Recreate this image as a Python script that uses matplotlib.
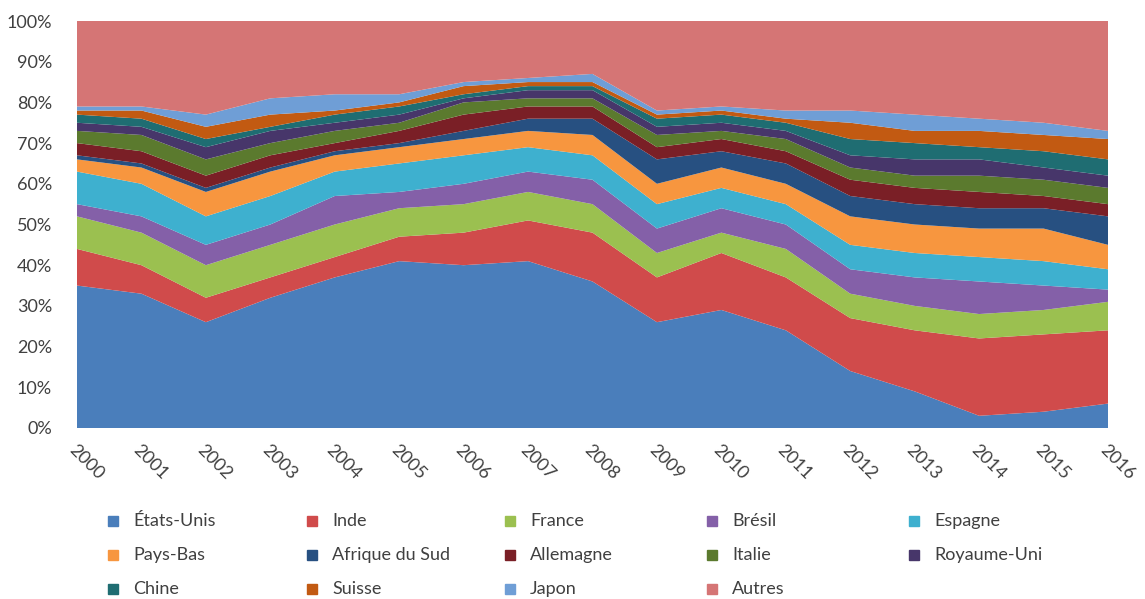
import matplotlib
matplotlib.use("Agg")
import matplotlib.pyplot as plt
from matplotlib.lines import Line2D
import numpy as np

years = list(range(2000, 2017))

# Share of each country (%), per year
etats_unis = [35, 33, 26, 32, 37, 41, 40, 41, 36, 26, 29, 24, 14, 9, 3, 4, 6]
inde = [9, 7, 6, 5, 5, 6, 8, 10, 12, 11, 14, 13, 13, 15, 19, 19, 18]
france = [8, 8, 8, 8, 8, 7, 7, 7, 7, 6, 5, 7, 6, 6, 6, 6, 7]
bresil = [3, 4, 5, 5, 7, 4, 5, 5, 6, 6, 6, 6, 6, 7, 8, 6, 3]
espagne = [8, 8, 7, 7, 6, 7, 7, 6, 6, 6, 5, 5, 6, 6, 6, 6, 5]
pays_bas = [3, 4, 6, 6, 4, 4, 4, 4, 5, 5, 5, 5, 7, 7, 7, 8, 6]
afrique_du_sud = [1, 1, 1, 1, 1, 1, 2, 3, 4, 6, 4, 5, 5, 5, 5, 5, 7]
allemagne = [3, 3, 3, 3, 2, 3, 4, 3, 3, 3, 3, 3, 4, 4, 4, 3, 3]
italie = [3, 4, 4, 3, 3, 2, 3, 2, 2, 3, 2, 3, 3, 3, 4, 4, 4]
royaume_uni = [2, 2, 3, 3, 2, 2, 1, 2, 2, 2, 2, 2, 3, 4, 4, 3, 3]
chine = [2, 2, 2, 1, 2, 2, 1, 1, 1, 2, 2, 2, 4, 4, 3, 4, 4]
suisse = [1, 2, 3, 3, 1, 1, 2, 1, 1, 1, 1, 1, 4, 3, 4, 4, 5]
japon = [1, 1, 3, 4, 4, 2, 1, 1, 2, 1, 1, 2, 3, 4, 3, 3, 2]
autres = [21, 21, 23, 19, 18, 18, 15, 14, 13, 22, 21, 22, 22, 23, 24, 25, 27]

labels = ["États-Unis", "Inde", "France", "Brésil", "Espagne",
          "Pays-Bas", "Afrique du Sud", "Allemagne", "Italie", "Royaume-Uni",
          "Chine", "Suisse", "Japon", "Autres"]
series = [etats_unis, inde, france, bresil, espagne, pays_bas, afrique_du_sud,
          allemagne, italie, royaume_uni, chine, suisse, japon, autres]
colors = ["#4a7ebb", "#d04b4b", "#9bc050", "#8460a8", "#3eb0cf", "#f7963f",
          "#275081", "#7a1f26", "#5b7a2e", "#47366a", "#1f6d72", "#c25a12",
          "#6f9ed6", "#d57575"]

plt.rcParams["font.family"] = ["Lato", "DejaVu Sans"]
text_color = "#404040"

fig = plt.figure(figsize=(11.45, 5.99), dpi=100)
W, H = 1145, 599
ax = fig.add_axes([77 / W, 1 - 428 / H, (1108 - 77) / W, (428 - 21) / H])

data = np.array(series, dtype=float)
data = data / data.sum(axis=0) * 100
ax.stackplot(years, data, colors=colors, linewidth=0)

ax.set_xlim(years[0], years[-1])
ax.set_ylim(0, 100)
ax.set_yticks(range(0, 101, 10))
ax.set_yticklabels([f"{v}%" for v in range(0, 101, 10)], fontsize=13,
                   color=text_color)
ax.set_xticks(years)
ax.set_xticklabels([str(y) for y in years], rotation=-45, ha="left",
                   va="top", rotation_mode="anchor", fontsize=13,
                   color=text_color)
ax.tick_params(axis="x", length=0, pad=10)
ax.tick_params(axis="y", length=0, pad=18)
for s in ax.spines.values():
    s.set_visible(False)

# Legend laid out row by row, five entries per row
col_x = [113, 312, 510, 712, 914]
row_y = [521, 555, 589]
for i, (lab, col) in enumerate(zip(labels, colors)):
    r, c = divmod(i, 5)
    x = col_x[c] / W
    y = 1 - row_y[r] / H
    fig.add_artist(Line2D([x], [y], marker="s", markersize=7, color=col,
                          linestyle="none", transform=fig.transFigure))
    fig.text(x + 20 / W, y, lab, fontsize=13, color=text_color,
             va="center", ha="left")

fig.savefig("out.png", dpi=100, facecolor="white")
